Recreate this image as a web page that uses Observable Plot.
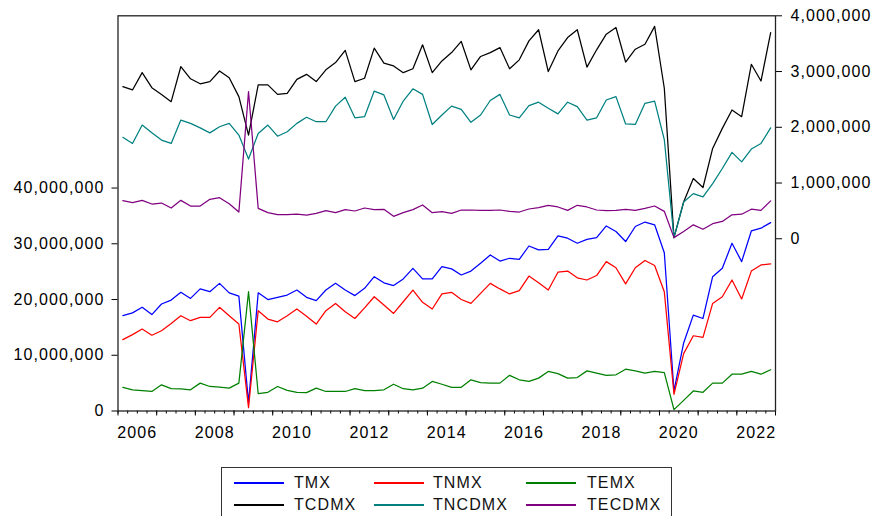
<!DOCTYPE html>
<html><head><meta charset="utf-8">
<script src="https://cdn.jsdelivr.net/npm/d3@7"></script>
<script src="https://cdn.jsdelivr.net/npm/@observablehq/plot@0.6"></script>
<style>
body{margin:0;background:#fff;font-family:"Liberation Sans",Arial,sans-serif;}
#chart{position:absolute;left:0;top:0;}
#legend{position:absolute;left:221px;top:467px;width:451px;height:60px;border:1px solid #333;box-sizing:border-box;background:#fff;}
.item{position:absolute;font-size:16px;letter-spacing:1.1px;color:#111;line-height:18px;}
.sw{position:absolute;height:0;border-top:2px solid;width:50px;}
</style></head><body>
<div id="chart"></div><div id="legend"></div>
<script>
const startYear = 2006; // first observation 2006Q1, quarterly
const TMX = [17.1e6,17.6e6,18.6e6,17.3e6,19.2e6,19.9e6,21.3e6,20.2e6,21.9e6,21.4e6,22.9e6,21.2e6,20.6e6,1.5e6,21.2e6,20.0e6,20.4e6,20.8e6,21.7e6,20.4e6,19.8e6,21.7e6,22.9e6,21.7e6,20.7e6,22.0e6,24.1e6,23.0e6,22.5e6,23.7e6,25.6e6,23.7e6,23.7e6,25.9e6,25.5e6,24.4e6,25.1e6,26.5e6,28.0e6,26.9e6,27.4e6,27.2e6,29.6e6,28.9e6,29.0e6,31.4e6,31.0e6,30.1e6,30.8e6,31.1e6,33.2e6,32.2e6,30.4e6,33.1e6,33.9e6,33.4e6,28.4e6,3.6e6,12.2e6,17.2e6,16.6e6,24.1e6,25.6e6,30.1e6,26.8e6,32.3e6,32.8e6,33.8e6];
const TNMX = [12.8e6,13.7e6,14.7e6,13.6e6,14.4e6,15.7e6,17.1e6,16.2e6,16.8e6,16.8e6,18.6e6,17.1e6,15.6e6,0.6e6,18.0e6,16.5e6,16.0e6,17.1e6,18.3e6,17.0e6,15.6e6,18.0e6,19.3e6,17.8e6,16.6e6,18.5e6,20.5e6,19.0e6,17.5e6,19.6e6,21.7e6,19.5e6,18.3e6,21.0e6,21.3e6,20.0e6,19.3e6,21.1e6,22.9e6,21.9e6,21.0e6,21.6e6,24.2e6,23.0e6,21.7e6,24.9e6,25.1e6,23.9e6,23.5e6,24.3e6,26.8e6,25.7e6,22.8e6,25.7e6,27.0e6,26.1e6,21.4e6,3.0e6,10.3e6,13.5e6,13.2e6,19.3e6,20.5e6,23.5e6,20.1e6,25.1e6,26.2e6,26.4e6];
const TEMX = [4.25e6,3.8e6,3.65e6,3.5e6,4.7e6,4.0e6,3.95e6,3.8e6,5.0e6,4.4e6,4.3e6,4.1e6,5.0e6,21.4e6,3.1e6,3.35e6,4.4e6,3.7e6,3.35e6,3.3e6,4.1e6,3.5e6,3.5e6,3.5e6,4.0e6,3.65e6,3.65e6,3.8e6,4.8e6,4.0e6,3.8e6,4.1e6,5.3e6,4.8e6,4.25e6,4.25e6,5.6e6,5.1e6,5.0e6,5.0e6,6.4e6,5.6e6,5.3e6,5.9e6,7.1e6,6.7e6,5.9e6,6.0e6,7.2e6,6.8e6,6.4e6,6.5e6,7.5e6,7.2e6,6.8e6,7.1e6,6.9e6,0.24e6,1.9e6,3.6e6,3.35e6,5.0e6,5.0e6,6.6e6,6.6e6,7.1e6,6.6e6,7.4e6];
const TCDMX = [2.73e6,2.67e6,2.98e6,2.71e6,2.59e6,2.46e6,3.09e6,2.87e6,2.78e6,2.82e6,3.01e6,2.89e6,2.55e6,1.86e6,2.76e6,2.76e6,2.59e6,2.61e6,2.86e6,2.95e6,2.82e6,3.03e6,3.16e6,3.38e6,2.82e6,2.88e6,3.42e6,3.15e6,3.10e6,2.98e6,3.05e6,3.48e6,2.98e6,3.19e6,3.34e6,3.54e6,3.03e6,3.27e6,3.34e6,3.43e6,3.05e6,3.21e6,3.55e6,3.75e6,3.00e6,3.37e6,3.61e6,3.75e6,3.08e6,3.39e6,3.67e6,3.79e6,3.17e6,3.40e6,3.49e6,3.81e6,2.70e6,0.02e6,0.66e6,1.08e6,0.92e6,1.62e6,1.98e6,2.31e6,2.19e6,3.13e6,2.83e6,3.70e6];
const TNCDMX = [1.82e6,1.71e6,2.04e6,1.90e6,1.77e6,1.71e6,2.13e6,2.07e6,1.99e6,1.90e6,2.01e6,2.07e6,1.86e6,1.43e6,1.89e6,2.04e6,1.84e6,1.92e6,2.07e6,2.18e6,2.10e6,2.10e6,2.38e6,2.54e6,2.17e6,2.19e6,2.65e6,2.58e6,2.14e6,2.47e6,2.69e6,2.59e6,2.05e6,2.22e6,2.38e6,2.32e6,2.09e6,2.22e6,2.48e6,2.59e6,2.22e6,2.17e6,2.39e6,2.45e6,2.34e6,2.24e6,2.45e6,2.37e6,2.13e6,2.17e6,2.49e6,2.55e6,2.06e6,2.05e6,2.43e6,2.47e6,1.78e6,0.02e6,0.66e6,0.81e6,0.75e6,0.99e6,1.26e6,1.55e6,1.38e6,1.61e6,1.71e6,1.99e6];
const TECDMX = [0.683e6,0.647e6,0.689e6,0.623e6,0.641e6,0.552e6,0.689e6,0.587e6,0.587e6,0.707e6,0.737e6,0.629e6,0.480e6,2.64e6,0.546e6,0.468e6,0.432e6,0.432e6,0.444e6,0.426e6,0.456e6,0.504e6,0.468e6,0.522e6,0.498e6,0.552e6,0.522e6,0.528e6,0.402e6,0.468e6,0.522e6,0.606e6,0.468e6,0.486e6,0.456e6,0.516e6,0.516e6,0.510e6,0.510e6,0.516e6,0.492e6,0.480e6,0.534e6,0.558e6,0.600e6,0.570e6,0.510e6,0.600e6,0.570e6,0.516e6,0.504e6,0.510e6,0.528e6,0.510e6,0.546e6,0.588e6,0.492e6,0.020e6,0.130e6,0.250e6,0.170e6,0.270e6,0.310e6,0.430e6,0.440e6,0.530e6,0.510e6,0.680e6];

const leftTicks = [0, 10e6, 20e6, 30e6, 40e6];
const rightTicks = [0, 1e6, 2e6, 3e6, 4e6];
const yearLabels = [2006, 2008, 2010, 2012, 2014, 2016, 2018, 2020, 2022];

const leftDomain = [0, 70.9e6];
const rightDomain = [-3.09e6, 4e6];
const toLeft = v => (v - rightDomain[0]) / (rightDomain[1] - rightDomain[0]) * (leftDomain[1] - leftDomain[0]) + leftDomain[0];
const fromLeft = v => (v - leftDomain[0]) / (leftDomain[1] - leftDomain[0]) * (rightDomain[1] - rightDomain[0]) + rightDomain[0];

const series = [
  {name: "TMX", values: TMX, axis: "left", color: "#0000ff"},
  {name: "TNMX", values: TNMX, axis: "left", color: "#ff0000"},
  {name: "TEMX", values: TEMX, axis: "left", color: "#008000"},
  {name: "TCDMX", values: TCDMX, axis: "right", color: "#000000"},
  {name: "TNCDMX", values: TNCDMX, axis: "right", color: "#008080"},
  {name: "TECDMX", values: TECDMX, axis: "right", color: "#800080"}
];

const rows = [];
for (const s of series) {
  s.values.forEach((v, i) => rows.push({
    series: s.name,
    t: startYear + (i + 0.5) / 4,
    y: s.axis === "left" ? v : toLeft(v)
  }));
}

const endYear = startYear + TMX.length / 4;
const quarterTicks = d3.range(0, TMX.length + 1).map(i => startYear + i / 4);
const yearTicks = d3.range(startYear, endYear + 1);
const fmt = d3.format(",");

const chart = Plot.plot({
  width: 874,
  height: 445,
  marginTop: 15.3,
  marginBottom: 34.5,
  marginLeft: 117.5,
  marginRight: 99,
  style: {fontFamily: '"Liberation Sans", Arial, sans-serif', fontSize: "16px", color: "#000", background: "#fff", letterSpacing: "1.1px"},
  x: {type: "linear", domain: [startYear, endYear], axis: null},
  y: {domain: leftDomain, axis: null},
  color: {domain: series.map(s => s.name), range: series.map(s => s.color)},
  marks: [
    Plot.line(rows, {x: "t", y: "y", z: "series", stroke: "series", strokeWidth: 1.25}),
    Plot.axisX({ticks: quarterTicks, tickSize: 3, tickFormat: () => "", strokeWidth: 1, label: null}),
    Plot.axisX({ticks: yearTicks, tickSize: 5, tickFormat: () => "", strokeWidth: 1, label: null}),
    Plot.axisX({ticks: yearLabels.map(y => y + 0.5), tickSize: 0, tickPadding: 16, tickFormat: d => String(Math.floor(d)), fontSize: 16, label: null}),
    Plot.axisY({anchor: "left", ticks: leftTicks, tickSize: 6, tickPadding: 7.5, tickFormat: fmt, fontSize: 16, label: null}),
    Plot.axisY({anchor: "right", ticks: rightTicks.map(toLeft), tickSize: 6, tickPadding: 9, tickFormat: d => fmt(Math.round(fromLeft(d) / 1000) * 1000), fontSize: 16, label: null}),
    Plot.frame({stroke: "#222", strokeWidth: 1.3})
  ]
});
document.getElementById("chart").appendChild(chart);

// legend below the plot
const legend = document.getElementById("legend");
const cols = [{sw: 12, tx: 72}, {sw: 151.5, tx: 211}, {sw: 304, tx: 365}];
const rowY = [14.7, 37];
series.forEach((s, k) => {
  const c = cols[k % 3], r = rowY[Math.floor(k / 3)];
  const sw = document.createElement("div");
  sw.className = "sw";
  sw.style.left = c.sw + "px";
  sw.style.top = (r - 1) + "px";
  sw.style.borderTopColor = s.color;
  legend.appendChild(sw);
  const tx = document.createElement("div");
  tx.className = "item";
  tx.style.left = c.tx + "px";
  tx.style.top = (r - 9) + "px";
  tx.textContent = s.name;
  legend.appendChild(tx);
});
</script></body></html>
